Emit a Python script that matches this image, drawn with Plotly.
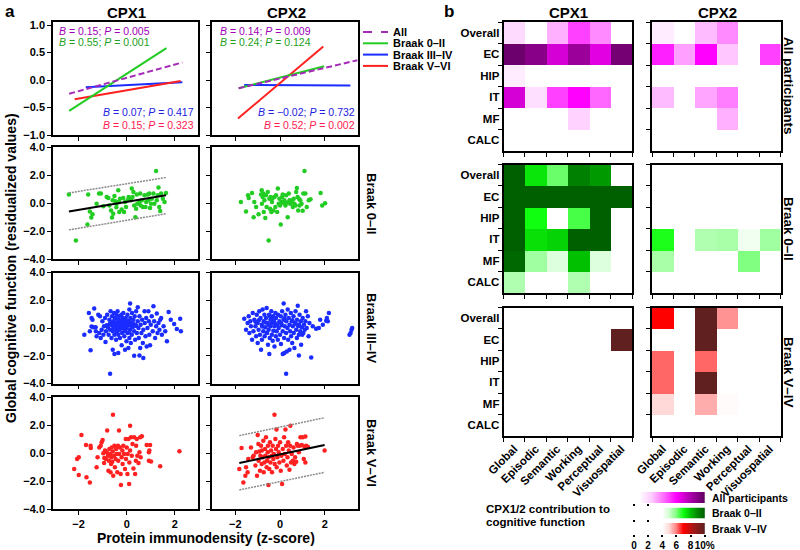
import numpy as np
import plotly.graph_objects as go

W, H = 800, 550
FONT = "Liberation Sans, Arial, sans-serif"

# ---------------- data: panel a, top row (fitted lines) ----------------
top_cpx1_all = ([-2.39, 2.31], [-0.25, 0.32])
top_cpx1_b02 = ([-2.39, 1.65], [-0.56, 0.58])
top_cpx1_b34 = ([-1.70, 2.31], [-0.13, -0.04])
top_cpx1_b56 = ([-2.16, 2.24], [-0.35, -0.02])
top_cpx2_all = ([-1.85, 3.45], [-0.15, 0.36])
top_cpx2_b02 = ([-1.85, 1.97], [-0.15, 0.25])
top_cpx2_b34 = ([-1.60, 3.14], [-0.09, -0.10])
top_cpx2_b56 = ([-1.88, 1.93], [-0.70, 0.61])

stats_cpx1 = ["<i>B</i> = 0.15; <i>P</i> = 0.005", "<i>B</i> = 0.55; <i>P</i> = 0.001",
              "<i>B</i> = 0.07; <i>P</i> = 0.417", "<i>B</i> = 0.15; <i>P</i> = 0.323"]
stats_cpx2 = ["<i>B</i> = 0.14; <i>P</i> = 0.009", "<i>B</i> = 0.24; <i>P</i> = 0.124",
              "<i>B</i> = −0.02; <i>P</i> = 0.732", "<i>B</i> = 0.52; <i>P</i> = 0.002"]

# ---------------- data: panel a, scatter points ----------------
b02_cpx1_pts = [(-2.40,0.60),(-2.11,-2.68),(-1.60,0.60),(-1.63,-1.53),(-1.53,-0.60),(-1.42,-0.81),(-1.47,-1.03),
    (-1.15,0.67),(-1.07,0.67),(-1.25,-0.05),(-0.97,-0.24),(-0.83,0.43),(-0.76,0.36),(-0.72,-0.17),(-0.65,-0.53),
    (-0.61,-1.03),(-0.58,0.19),(-0.56,-0.77),(-0.51,0.50),(-0.47,0.12),(-0.43,-0.31),(-0.42,-0.05),(-0.35,0.91),
    (-0.33,0.07),(-0.31,-0.65),(-0.28,0.31),(-0.21,-0.46),(-0.14,0.36),(-0.11,-0.65),(-0.07,0.07),(-0.03,-0.29),
    (0.04,0.19),(0.08,0.43),(0.14,0.31),(0.18,0.19),(0.21,1.03),(0.24,0.43),(0.28,0.79),(0.31,-0.17),(0.36,-1.01),
    (0.39,-0.41),(0.42,0.60),(0.44,-0.05),(0.53,0.07),(0.56,0.67),(0.58,-0.17),(0.63,0.19),(0.67,-0.29),(0.74,0.55),
    (0.78,-0.29),(0.81,0.07),(0.88,0.60),(0.90,0.19),(0.94,0.67),(0.97,-0.36),(1.01,-0.05),(1.04,0.31),(1.11,0.67),
    (1.15,-0.05),(1.22,2.28),(1.25,0.19),(1.29,0.55),(1.32,1.10),(1.35,-0.29),(1.39,-0.57),(1.43,0.67),(1.50,0.31),
    (1.57,0.07),(1.63,0.72)]
b02_cpx2_pts = [(-1.75,0.07),(-1.52,-0.60),(-1.43,0.55),(-1.40,0.36),(-1.25,0.72),(-1.18,-1.01),(-1.15,0.07),
    (-1.07,-0.29),(-0.96,-0.81),(-0.85,0.60),(-0.82,0.91),(-0.81,-0.05),(-0.78,0.43),(-0.75,0.67),(-0.73,-0.65),
    (-0.70,0.19),(-0.66,-1.08),(-0.63,0.55),(-0.60,-0.29),(-0.55,0.79),(-0.51,-2.68),(-0.48,0.31),(-0.45,-0.41),
    (-0.42,0.43),(-0.39,-0.65),(-0.36,0.07),(-0.33,0.36),(-0.30,-0.53),(-0.25,0.43),(-0.21,-0.29),(-0.18,0.55),
    (-0.13,-0.65),(-0.10,1.03),(-0.06,-0.05),(-0.03,0.31),(0.00,-0.17),(0.03,-1.53),(0.06,0.07),(0.09,0.43),
    (0.12,0.60),(0.15,0.02),(0.19,0.19),(0.24,-0.17),(0.27,0.55),(0.30,0.02),(0.34,-1.01),(0.39,0.67),(0.42,0.19),
    (0.45,-0.05),(0.49,0.02),(0.54,0.19),(0.57,-0.29),(0.61,0.31),(0.64,-0.05),(0.69,-0.17),(0.72,0.79),(0.75,1.08),
    (0.78,0.43),(0.81,-0.53),(0.84,0.31),(0.87,-0.17),(0.90,0.19),(0.96,-0.05),(1.01,-0.55),(1.04,0.67),(1.09,2.28),
    (1.13,0.67),(1.19,-0.29),(1.28,0.19),(1.36,0.26),(1.81,0.72),(1.88,-0.17),(2.01,-0.02)]
b34_cpx1_pts = [(-1.76,-0.48),(-1.57,1.08),(-1.50,-1.61),(-1.46,0.72),(-1.42,0.60),(-1.39,0.05),(-1.53,-0.24),
    (-1.35,1.40),(-1.46,0.10),(-1.29,0.05),(-1.28,-0.24),(-1.25,-0.60),(-1.18,0.96),(-1.14,-0.36),(-1.11,0.84),
    (-1.08,-0.72),(-1.04,-0.12),(-1.01,0.48),(-0.97,-0.48),(-0.94,0.12),(-0.90,0.72),(-0.88,-1.01),(-0.86,-0.24),
    (-0.83,0.19),(-0.81,0.96),(-0.78,0.05),(-0.75,-0.48),(-0.72,0.60),(-0.69,-3.30),(-0.69,-0.12),(-0.67,1.20),
    (-0.65,0.24),(-0.63,-0.72),(-0.61,0.84),(-0.58,-1.57),(-0.58,-0.24),(-0.56,0.48),(-0.56,0.12),(-0.53,1.08),
    (-0.51,-1.88),(-0.51,-0.48),(-0.49,0.72),(-0.49,0.00),(-0.46,0.36),(-0.44,-0.84),(-0.43,0.96),(-0.42,-0.19),
    (-0.42,0.24),(-0.39,0.60),(-0.38,1.20),(-0.36,0.05),(-0.35,-1.81),(-0.35,-0.48),(-0.32,0.84),(-0.31,0.36),
    (-0.29,-0.12),(-0.28,-0.72),(-0.25,0.48),(-0.24,0.12),(-0.22,0.96),(-0.21,-1.25),(-0.19,-0.36),(-0.18,0.72),
    (-0.17,0.24),(-0.14,-0.05),(-0.14,1.08),(-0.11,0.48),(-0.10,-0.60),(-0.08,0.12),(-0.07,-1.57),(-0.06,-0.24),
    (-0.04,0.72),(-0.03,0.36),(-0.01,-0.96),(0.00,0.00),(0.03,0.96),(0.04,-0.36),(0.06,0.48),(0.07,-1.45),
    (0.08,0.19),(0.11,1.33),(0.11,-0.72),(0.14,1.76),(0.14,-0.12),(0.15,0.72),(0.17,-1.08),(0.18,0.36),
    (0.21,-0.48),(0.22,1.08),(0.25,0.05),(0.28,0.60),(0.31,-2.00),(0.31,-0.24),(0.33,0.84),(0.35,-0.84),
    (0.36,0.24),(0.39,1.20),(0.42,-0.36),(0.46,1.49),(0.46,0.48),(0.49,0.00),(0.50,-0.72),(0.53,-1.98),(0.53,0.84),
    (0.56,-1.45),(0.58,0.24),(0.61,-0.36),(0.64,0.60),(0.67,-1.08),(0.69,-2.17),(0.69,-0.12),(0.74,1.20),
    (0.75,0.36),(0.78,-0.60),(0.81,0.72),(0.83,-1.33),(0.86,0.00),(0.90,1.20),(0.92,0.48),(0.94,-0.48),
    (0.97,-1.25),(1.00,0.24),(1.04,0.84),(1.08,-0.24),(1.11,1.57),(1.14,0.48),(1.18,-0.72),(1.22,0.12),
    (1.25,1.04),(1.28,-0.36),(1.32,0.36),(1.36,-0.12),(1.39,0.60),(1.43,0.72),(1.46,-0.48),(1.53,0.12),
    (1.60,-0.24),(1.67,-0.96),(1.74,1.16),(1.83,0.60),(1.97,0.29),(2.08,-0.07),(2.22,0.67),(2.25,-0.24),
    (-0.60,0.40),(-0.45,0.30),(-0.30,0.55),(-0.20,0.05),(-0.12,0.30),(0.02,0.25),(0.12,0.50),(0.20,0.10),
    (-0.55,-0.05),(-0.40,-0.30),(-0.26,0.20),(-0.05,0.55),(0.10,-0.30),(0.26,0.30),(0.40,0.15),(-0.70,0.30)]
b34_cpx2_pts = [(-1.60,0.67),(-1.52,-0.12),(-1.45,0.36),(-1.40,0.84),(-1.37,-0.36),(-1.33,0.48),(-1.30,0.12),
    (-1.25,-0.84),(-1.22,1.08),(-1.19,-0.24),(-1.15,0.60),(-1.10,0.12),(-1.07,-0.60),(-1.04,0.96),(-1.00,-1.08),
    (-1.00,0.36),(-0.96,-0.12),(-0.93,1.20),(-0.90,-0.48),(-0.87,0.72),(-0.85,-1.57),(-0.82,0.24),(-0.81,-0.84),
    (-0.78,1.33),(-0.75,-0.24),(-0.73,0.48),(-0.70,0.96),(-0.69,-0.60),(-0.66,0.05),(-0.63,0.72),(-0.60,1.45),
    (-0.58,-0.36),(-0.55,0.36),(-0.54,-1.20),(-0.51,-0.12),(-0.49,0.96),(-0.48,-1.88),(-0.46,-0.72),(-0.43,0.60),
    (-0.42,0.12),(-0.39,1.20),(-0.37,-0.48),(-0.36,0.36),(-0.33,-0.92),(-0.31,0.84),(-0.30,-0.19),(-0.27,0.48),
    (-0.25,-1.33),(-0.24,0.12),(-0.21,1.08),(-0.19,-0.60),(-0.18,0.72),(-0.15,-0.24),(-0.13,0.24),(-0.10,-0.84),
    (-0.09,0.96),(-0.06,0.00),(-0.03,0.48),(0.00,-0.48),(0.03,0.84),(0.04,-1.16),(0.07,0.19),(0.09,1.20),
    (0.12,-1.88),(0.12,-0.24),(0.15,0.60),(0.16,1.76),(0.18,-0.72),(0.19,-1.81),(0.21,0.12),(0.24,0.96),
    (0.27,-3.30),(0.27,-0.36),(0.28,0.48),(0.30,-1.69),(0.33,0.00),(0.34,1.33),(0.36,-0.84),(0.39,0.72),
    (0.42,-1.57),(0.42,0.24),(0.45,-0.24),(0.48,1.08),(0.49,-0.60),(0.52,0.48),(0.54,-1.08),(0.57,0.12),
    (0.60,0.84),(0.61,-0.36),(0.64,-1.45),(0.66,0.36),(0.69,1.20),(0.72,-0.12),(0.75,-0.72),(0.76,0.60),
    (0.79,1.61),(0.81,0.12),(0.84,-1.98),(0.84,-0.48),(0.87,0.96),(0.90,-0.24),(0.93,0.48),(0.94,-1.20),
    (0.97,0.05),(0.99,-0.48),(1.01,0.72),(1.04,-0.36),(1.07,0.24),(1.10,-0.12),(1.13,0.48),(1.16,1.20),
    (1.19,0.00),(1.24,0.84),(1.27,-0.60),(1.31,0.36),(1.39,-2.12),(1.46,0.12),(1.61,-0.05),(1.73,0.00),
    (1.79,0.60),(1.91,0.24),(2.06,0.53),(2.09,0.72),(2.18,1.08),(2.13,0.48),(3.10,-0.48),(3.15,-0.36),
    (3.19,-0.12),(3.22,0.00),(-0.95,0.55),(-0.80,0.10),(-0.65,0.40),(-0.50,0.20),(-0.35,0.65),(-0.20,0.30),
    (-1.10,0.45),(-0.60,-0.35),(-0.45,0.85),(0.05,0.35),(0.20,0.70),(0.55,0.55),(0.70,0.30),(0.85,0.25)]
b56_cpx1_pts = [(-2.18,-1.14),(-2.06,-0.43),(-1.99,-0.31),(-1.99,-1.57),(-1.88,1.29),(-1.69,0.57),(-1.67,-1.74),
    (-1.53,-2.10),(-1.50,0.52),(-1.49,0.36),(-1.25,-1.02),(-1.21,-0.31),(-1.14,0.40),(-1.08,0.52),(-1.04,0.76),
    (-1.00,0.93),(-0.97,-0.02),(-0.94,-0.71),(-0.93,-0.36),(-0.90,0.17),(-0.86,-0.43),(-0.83,0.05),(-0.81,1.60),
    (-0.78,-0.19),(-0.76,-1.26),(-0.74,-0.55),(-0.72,0.29),(-0.69,-0.07),(-0.67,-1.38),(-0.65,-0.79),(-0.64,-0.31),
    (-0.62,0.40),(-0.60,-0.62),(-0.58,0.10),(-0.57,2.74),(-0.56,-1.62),(-0.53,-0.19),(-0.51,0.52),(-0.49,-1.02),
    (-0.46,-0.43),(-0.44,0.29),(-0.42,-0.07),(-0.39,-1.38),(-0.36,0.52),(-0.35,-0.55),(-0.32,1.60),(-0.31,-0.07),
    (-0.28,0.40),(-0.25,-1.50),(-0.24,-2.29),(-0.21,-0.31),(-0.18,0.17),(-0.17,-0.79),(-0.14,0.52),(-0.11,-0.07),
    (-0.07,-1.14),(-0.04,1.00),(-0.03,-0.43),(0.00,0.40),(0.03,-1.50),(0.04,-0.07),(0.07,1.00),(0.10,-2.21),
    (0.11,-0.67),(0.14,1.95),(0.14,0.17),(0.18,1.12),(0.21,-0.19),(0.24,0.64),(0.28,-1.10),(0.31,1.12),
    (0.35,-1.50),(0.38,-0.55),(0.39,0.52),(0.42,1.00),(0.44,-0.19),(0.49,-0.71),(0.53,0.05),(0.56,1.12),
    (0.58,-0.31),(0.63,1.19),(0.83,0.57),(0.92,0.05),(0.94,0.17),(0.97,0.57),(0.92,-0.55),(1.01,-0.60),
    (1.39,-0.95),(2.19,0.12)]
b56_cpx2_pts = [(-1.82,-1.14),(-1.72,0.36),(-1.64,-2.10),(-1.55,-1.62),(-1.52,-1.02),(-1.45,-1.38),(-1.42,-0.43),
    (-1.30,0.40),(-1.22,-0.31),(-1.18,-0.19),(-1.10,-0.90),(-1.07,0.05),(-1.03,-1.62),(-1.00,1.29),(-0.97,0.64),
    (-0.96,-0.55),(-0.93,0.10),(-0.90,-1.26),(-0.88,-0.19),(-0.85,0.52),(-0.82,-0.79),(-0.81,0.17),(-0.78,-0.31),
    (-0.75,0.88),(-0.73,-1.38),(-0.70,-0.67),(-0.67,0.29),(-0.66,-0.19),(-0.63,1.12),(-0.60,-1.02),(-0.58,-0.55),
    (-0.55,0.05),(-0.54,0.52),(-0.52,-2.29),(-0.51,-0.31),(-0.48,-1.14),(-0.45,0.76),(-0.43,-0.67),(-0.40,0.17),
    (-0.37,-0.19),(-0.36,-1.38),(-0.33,0.52),(-0.30,-0.43),(-0.28,-0.07),(-0.25,2.74),(-0.24,-0.79),(-0.21,1.00),
    (-0.18,0.29),(-0.16,1.67),(-0.15,-1.02),(-0.12,-0.31),(-0.09,0.52),(-0.06,0.05),(-0.03,-0.67),(0.00,0.76),
    (0.03,-1.26),(0.06,-0.19),(0.09,-2.21),(0.12,0.29),(0.15,-0.55),(0.18,1.12),(0.21,-0.07),(0.24,1.67),
    (0.27,0.52),(0.30,-0.90),(0.33,-0.31),(0.36,0.76),(0.39,0.17),(0.42,-1.19),(0.45,0.52),(0.46,1.95),
    (0.49,-0.67),(0.52,-0.07),(0.57,-0.55),(0.60,0.40),(0.64,-0.79),(0.67,-0.31),(0.72,-0.62),(0.75,0.64),
    (0.79,0.52),(0.84,0.05),(0.87,0.52),(0.91,1.12),(0.97,0.57),(1.01,1.12),(1.06,-0.43),(1.09,0.45),
    (1.13,1.17),(1.13,-0.67),(1.16,0.52),(1.24,0.45),(1.99,0.17)]

# regression line + band (x endpoints, fit, upper, lower)
fit_b02_cpx1 = dict(x=[-2.40, 1.63], fit=[-0.60, 0.55], up=[0.72, 1.82], lo=[-1.92, -0.77])
fit_b56_cpx2 = dict(x=[-1.82, 1.99], fit=[-0.71, 0.57], up=[1.24, 2.52], lo=[-2.64, -1.38])

# ---------------- data: panel b heatmaps (% contribution) ----------------
domains = ["Global", "Episodic", "Semantic", "Working", "Perceptual", "Visuospatial"]
regions = ["Overall", "EC", "HIP", "IT", "MF", "CALC"]
hm_all_cpx1 = [[2.0, 0, 3.0, 5.0, 3.7, 0],
               [9.7, 9.0, 7.0, 8.5, 6.7, 9.5],
               [1.3, 0, 0, 0, 0, 0],
               [7.0, 1.8, 5.0, 6.0, 4.3, 0],
               [0, 0, 0, 2.3, 0, 0],
               [0, 0, 0, 0, 0, 0]]
hm_all_cpx2 = [[1.3, 0, 2.8, 3.7, 0, 0],
               [5.5, 3.3, 6.0, 2.6, 0, 5.0],
               [0, 0, 0, 0, 0, 0],
               [2.8, 0, 3.2, 3.9, 0, 0],
               [0, 0, 0, 3.0, 0, 0],
               [0, 0, 0, 0, 0, 0]]
hm_b02_cpx1 = [[10, 7.4, 6.2, 9.2, 8.7, 0],
               [10, 10, 10, 10, 10, 10],
               [10, 7.0, 0, 6.5, 10, 0],
               [10, 7.5, 7.7, 10, 10, 0],
               [9.8, 5.6, 4.7, 8.0, 4.7, 0],
               [5.4, 0, 0, 5.4, 0, 0]]
hm_b02_cpx2 = [[0, 0, 0, 0, 0, 0],
               [0, 0, 0, 0, 0, 0],
               [0, 0, 0, 0, 0, 0],
               [6.9, 0, 5.4, 5.5, 4.3, 5.6],
               [5.5, 0, 0, 0, 6.0, 0],
               [0, 0, 0, 0, 0, 0]]
hm_b56_cpx1 = [[0, 0, 0, 0, 0, 0],
               [0, 0, 0, 0, 0, 10],
               [0, 0, 0, 0, 0, 0],
               [0, 0, 0, 0, 0, 0],
               [0, 0, 0, 0, 0, 0],
               [0, 0, 0, 0, 0, 0]]
hm_b56_cpx2 = [[7.0, 0, 10, 5.8, 0, 0],
               [0, 0, 10, 0, 0, 0],
               [6.2, 0, 6.2, 0, 0, 0],
               [6.2, 0, 10, 0, 0, 0],
               [5.0, 0, 5.5, 4.1, 0, 0],
               [0, 0, 0, 0, 0, 0]]
scale_start = {"all": 1.0, "b02": 3.7, "b56": 3.7}
scale_ticks = [0, 2, 4, 6, 8, 10]
scale_ticktext = ["0", "2", "4", "6", "8", "10%"]

# ---------------- styles ----------------
CS_PINK = [[0, "#ffffff"], [0.08, "#ffffff"], [0.12, "#fff0ff"], [0.25, "#ffccff"], [0.5, "#ff40ff"],
           [0.6, "#ff00ff"], [0.75, "#c000c0"], [0.9, "#880088"], [1, "#600060"]]
CS_GREEN = [[0, "#ffffff"], [0.4, "#ffffff"], [0.5, "#d0ffd0"], [0.6, "#80ff80"], [0.7, "#10ff10"],
            [0.8, "#00c000"], [0.9, "#008800"], [1, "#006000"]]
CS_RED = [[0, "#ffffff"], [0.4, "#ffffff"], [0.5, "#ffd8d8"], [0.6, "#ff8080"], [0.7, "#ff0000"],
          [0.85, "#a01818"], [1, "#602020"]]
C_ALL, C_G, C_B, C_R = "#a52ab8", "#22cc22", "#1a2cff", "#ff2020"
T_ALL, T_G, T_B, T_R = "#a000b4", "#22a022", "#2020e0", "#ff2050"


def dxp(a, b):
    return [a / W, b / W]


def dyp(top, bottom):
    return [1 - bottom / H, 1 - top / H]


BOLD = dict(family=FONT, size=11, color="black", weight="bold")
base_ax = dict(showline=True, linecolor="black", linewidth=1.5, mirror=True, ticks="outside",
               ticklen=4, tickwidth=1.2, tickcolor="black", showgrid=False, zeroline=False,
               tickfont=BOLD, fixedrange=True, automargin=False)

fig = go.Figure()
layout_axes = {}


def axname(n, kind):
    return f"{kind}axis" if n == 1 else f"{kind}axis{n}"


def ref(n, kind):
    return kind if n == 1 else f"{kind}{n}"


# ---- panel a axes ----
col_x = [(53, 198), (212, 358)]
col_range = [[-3.06, 2.96], [-3.04, 3.48]]
row_y = [(22, 135), (147, 259), (272.5, 383.5), (397, 509)]
row_range = [[-1.0, 1.055], [-4, 4], [-4, 4], [-4, 4]]

n = 0
panel_a = {}
for r in range(4):
    for c in range(2):
        n += 1
        panel_a[(r, c)] = n
        xa = dict(base_ax, domain=dxp(*col_x[c]), range=col_range[c], tickvals=[-2, 0, 2],
                  showticklabels=(r == 3), anchor=ref(n, "y"))
        ya = dict(base_ax, domain=dyp(*row_y[r]), range=row_range[r],
                  tickvals=([-1, -0.5, 0, 0.5, 1] if r == 0 else [-4, -2, 0, 2, 4]),
                  tickformat=".1f", showticklabels=(c == 0), anchor=ref(n, "x"))
        layout_axes[axname(n, "x")] = xa
        layout_axes[axname(n, "y")] = ya


def add_line(n, xy, color, dash="solid", width=2):
    fig.add_trace(go.Scatter(x=xy[0], y=xy[1], mode="lines", line=dict(color=color, width=width, dash=dash),
                             xaxis=ref(n, "x"), yaxis=ref(n, "y"), showlegend=False, hoverinfo="skip"))


for c, lines in enumerate([(top_cpx1_all, top_cpx1_b02, top_cpx1_b34, top_cpx1_b56),
                           (top_cpx2_all, top_cpx2_b02, top_cpx2_b34, top_cpx2_b56)]):
    nn = panel_a[(0, c)]
    add_line(nn, lines[2], C_B)
    add_line(nn, lines[3], C_R)
    add_line(nn, lines[1], C_G)
    add_line(nn, lines[0], C_ALL, dash="6px,3px")

scatter_sets = [((1, 0), b02_cpx1_pts, C_G), ((1, 1), b02_cpx2_pts, C_G),
                ((2, 0), b34_cpx1_pts, C_B), ((2, 1), b34_cpx2_pts, C_B),
                ((3, 0), b56_cpx1_pts, C_R), ((3, 1), b56_cpx2_pts, C_R)]
for key, pts, col in scatter_sets:
    nn = panel_a[key]
    fig.add_trace(go.Scatter(x=[p[0] for p in pts], y=[p[1] for p in pts], mode="markers",
                             marker=dict(color=col, size=4.5, line=dict(width=0)),
                             xaxis=ref(nn, "x"), yaxis=ref(nn, "y"), showlegend=False, hoverinfo="skip"))

for key, fit in [((1, 0), fit_b02_cpx1), ((3, 1), fit_b56_cpx2)]:
    nn = panel_a[key]
    add_line(nn, (fit["x"], fit["up"]), "#8a8a8a", dash="2px,1px", width=1.5)
    add_line(nn, (fit["x"], fit["lo"]), "#8a8a8a", dash="2px,1px", width=1.5)
    add_line(nn, (fit["x"], fit["fit"]), "black", width=2)

# ---- panel b heatmap axes ----
hcol_x = [(503.5, 632), (652, 780.5)]
hrow_y = [(22, 151), (164.5, 293), (307.5, 436)]
hm_sets = [(hm_all_cpx1, hm_all_cpx2, CS_PINK), (hm_b02_cpx1, hm_b02_cpx2, CS_GREEN),
           (hm_b56_cpx1, hm_b56_cpx2, CS_RED)]
for r in range(3):
    for c in range(2):
        n += 1
        xa = dict(base_ax, domain=dxp(*hcol_x[c]), type="category", tickson="boundaries",
                  categoryorder="array", categoryarray=domains, tickangle=-45,
                  showticklabels=(r == 2), anchor=ref(n, "y"),
                  tickfont=dict(family=FONT, size=11.5, color="black", weight="bold"))
        ya = dict(base_ax, domain=dyp(*hrow_y[r]), type="category", tickson="boundaries",
                  categoryorder="array", categoryarray=regions, autorange="reversed",
                  showticklabels=(c == 0), anchor=ref(n, "x"),
                  tickfont=dict(family=FONT, size=11.5, color="black", weight="bold"))
        layout_axes[axname(n, "x")] = xa
        layout_axes[axname(n, "y")] = ya
        fig.add_trace(go.Heatmap(z=hm_sets[r][c], x=domains, y=regions, colorscale=hm_sets[r][2],
                                 zmin=0, zmax=10, showscale=False, xaxis=ref(n, "x"), yaxis=ref(n, "y"),
                                 hoverinfo="skip"))

# ---- colour-scale strips ----
strip_y = [(492, 503), (507.5, 518.5), (523, 534)]
for i, (key, cs) in enumerate([("all", CS_PINK), ("b02", CS_GREEN), ("b56", CS_RED)]):
    n += 1
    vals = list(np.round(np.arange(scale_start[key], 10.001, 0.1), 2))
    last = i == 2
    xa = dict(domain=dxp(634, 705), range=[0, 10.05], showline=False, showgrid=False, zeroline=False,
              ticks="outside", ticklen=2, tickwidth=1.5, tickcolor="black", tickangle=0,
              tickvals=(scale_ticks if last else [0, 2]), ticktext=(scale_ticktext if last else None),
              showticklabels=last, tickfont=dict(family=FONT, size=10, color="black", weight="bold"),
              anchor=ref(n, "y"), fixedrange=True, automargin=False)
    ya = dict(domain=dyp(*strip_y[i]), range=[-0.5, 0.5], visible=False, anchor=ref(n, "x"),
              fixedrange=True, automargin=False)
    layout_axes[axname(n, "x")] = xa
    layout_axes[axname(n, "y")] = ya
    fig.add_trace(go.Heatmap(z=[vals], x=vals, y=[0], colorscale=cs, zmin=0, zmax=10, showscale=False,
                             xaxis=ref(n, "x"), yaxis=ref(n, "y"), hoverinfo="skip"))

# ---------------- annotations ----------------
ann = []


def txt(x, y, s, size=11, bold=True, color="black", xanchor="center", yanchor="middle", angle=0):
    ann.append(dict(x=x / W, y=1 - y / H, xref="paper", yref="paper", text=s, showarrow=False,
                    xanchor=xanchor, yanchor=yanchor, textangle=angle, borderpad=0,
                    font=dict(family=FONT, size=size, color=color, weight=("bold" if bold else "normal"))))


txt(10, 11, "a", size=17)
txt(449, 11, "b", size=17)
for x, s in [(126, "CPX1"), (286, "CPX2"), (568, "CPX1"), (717, "CPX2")]:
    txt(x, 12, s, size=15)

txt(11, 268, "Global cognitive function (residualized values)", size=14, angle=-90)
txt(206, 538, "Protein immunodensity (z-score)", size=14)
txt(372, 203, "Braak 0–II", size=13, angle=90)
txt(372, 328, "Braak III–IV", size=13, angle=90)
txt(372, 453, "Braak V–VI", size=13, angle=90)
txt(789, 86, "All participants", size=13.5, angle=90)
txt(789, 229, "Braak 0–II", size=13.5, angle=90)
txt(789, 372, "Braak V–IV", size=13.5, angle=90)

# stats text in top row
for c, stats in enumerate([stats_cpx1, stats_cpx2]):
    xl = [58, 219][c]
    xr = [195, 356][c]
    txt(xl, 31, stats[0], size=10.5, bold=False, color=T_ALL, xanchor="left")
    txt(xl, 42, stats[1], size=10.5, bold=False, color=T_G, xanchor="left")
    txt(xr, 112, stats[2], size=10.5, bold=False, color=T_B, xanchor="right")
    txt(xr, 125, stats[3], size=10.5, bold=False, color=T_R, xanchor="right")

# legend (panel a)
legend_items = [("All", C_ALL, "dash"), ("Braak 0–II", C_G, "solid"),
                ("Braak III–IV", C_B, "solid"), ("Braak V–VI", C_R, "solid")]
shapes = []
for i, (lab, col, dsh) in enumerate(legend_items):
    yy = 32 + i * 11.3
    shapes.append(dict(type="line", xref="paper", yref="paper", x0=363 / W, x1=388 / W,
                       y0=1 - yy / H, y1=1 - yy / H, line=dict(color=col, width=2, dash=dsh)))
    txt(392, yy, lab, size=11, xanchor="left")

# colour-scale legend text
txt(485, 509, "CPX1/2 contribution to", size=11.5, xanchor="left")
txt(485, 522, "cognitive function", size=11.5, xanchor="left")
txt(711, 498, "All participants", size=10.5, xanchor="left")
txt(711, 513, "Braak 0–II", size=10.5, xanchor="left")
txt(711, 529, "Braak V–IV", size=10.5, xanchor="left")

fig.update_layout(width=W, height=H, margin=dict(l=0, r=0, t=0, b=0, autoexpand=False), plot_bgcolor="white",
                  paper_bgcolor="white", showlegend=False, annotations=ann, shapes=shapes,
                  font=dict(family=FONT, color="black"), **layout_axes)
fig.write_html("out.html", config={"displayModeBar": False},
               post_script="document.body.style.margin='0px';")
